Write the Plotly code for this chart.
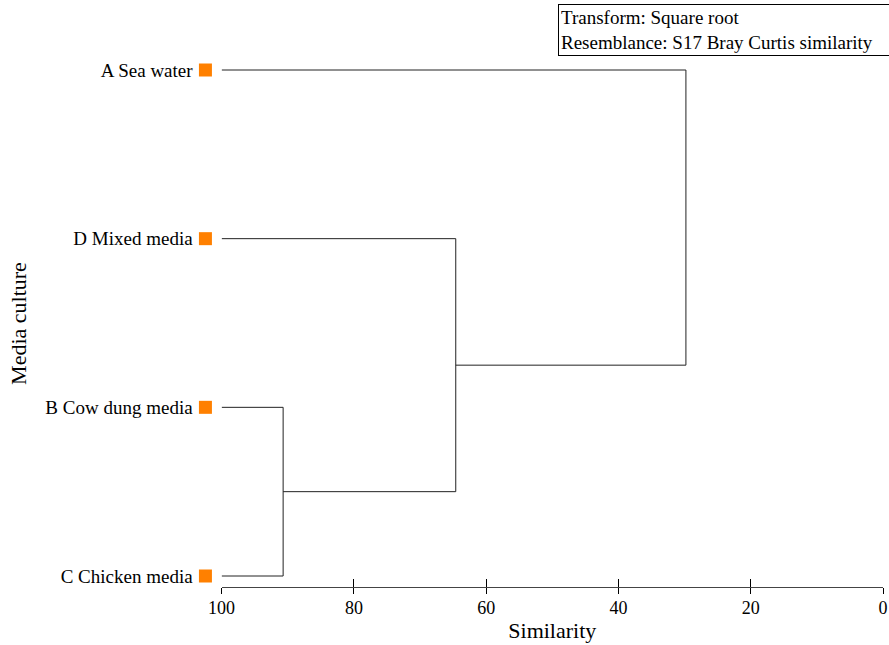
import plotly.graph_objects as go

# Data
leaf_labels = ["C Chicken media", "B Cow dung media", "D Mixed media", "A Sea water"]
leaf_pos = [0, 1, 2, 3]
merge_bc = 90.7   # B + C
merge_bcd = 64.6  # (B,C) + D
merge_all = 29.8  # (B,C,D) + A
x_ticks = [100, 80, 60, 40, 20, 0]

FONT = "Liberation Serif"
W, H = 889, 645
X0, X1 = 221.7, 883.3     # pixel span of the similarity axis
Y_TOP, Y_AX = 60, 587     # plot area top / axis line

# dendrogram segments
c, b, d, a = leaf_pos
bc_mid = (b + c) / 2
bcd_mid = (bc_mid + d) / 2
xs, ys = [], []
def seg(px, py):
    xs.extend(px + [None]); ys.extend(py + [None])
seg([100, merge_bc, merge_bc, 100], [c, c, b, b])
seg([merge_bc, merge_bcd], [bc_mid, bc_mid])
seg([100, merge_bcd, merge_bcd], [d, d, bc_mid])
seg([merge_bcd, merge_all], [bcd_mid, bcd_mid])
seg([100, merge_all, merge_all], [a, a, bcd_mid])

fig = go.Figure()
fig.add_trace(go.Scatter(x=xs, y=ys, mode="lines", line=dict(color="#222222", width=1),
                         hoverinfo="skip", showlegend=False))
# leaf markers on a small helper axis left of the dendrogram
fig.add_trace(go.Scatter(x=[0.5] * 4, y=leaf_pos, xaxis="x3", mode="markers",
                         marker=dict(symbol="square", size=13, color="#ff8000"),
                         cliponaxis=False, showlegend=False, hoverinfo="skip"))
# invisible trace for the inside-tick overlay axis
fig.add_trace(go.Scatter(x=[100, 0], y=[0, 0], xaxis="x2", mode="markers",
                         marker=dict(opacity=0), showlegend=False, hoverinfo="skip"))

unit = (576 - 70) / 3
fig.update_layout(
    width=W, height=H, template="none",
    margin=dict(l=0, r=W - X1, t=Y_TOP, b=H - Y_AX),
    plot_bgcolor="white", paper_bgcolor="white",
    font=dict(family=FONT, color="black"),
    xaxis=dict(domain=[X0 / X1, 1], range=[100, 0], tickvals=x_ticks, ticks="outside",
               ticklen=6, tickcolor="black", showline=True, linecolor="#444444",
               linewidth=1, showgrid=False, zeroline=False, automargin=False,
               ticklabeloverflow="allow", ticklabelstandoff=-2,
               tickfont=dict(size=18, family=FONT),
               title=dict(text="Similarity", font=dict(size=22, family=FONT), standoff=6)),
    xaxis2=dict(domain=[X0 / X1, 1], range=[100, 0], tickvals=x_ticks, ticks="inside",
                ticklen=8, tickcolor="black", overlaying="x", side="bottom",
                showticklabels=False, showgrid=False, zeroline=False, showline=False,
                automargin=False),
    xaxis3=dict(domain=[198 / X1, 213 / X1], range=[0, 1], anchor="y", visible=False,
                showgrid=False, zeroline=False, automargin=False),
    yaxis=dict(range=[-(Y_AX - 576) / unit, 3 + (70 - Y_TOP) / unit], anchor="x",
               tickvals=leaf_pos, ticktext=leaf_labels, ticks="", showline=False,
               showgrid=False, zeroline=False, automargin=False,
               tickfont=dict(size=19, family=FONT), ticklabelstandoff=28,
               title=dict(text="Media culture", font=dict(size=22, family=FONT), standoff=12)),
    annotations=[dict(
        text="Transform: Square root<br>Resemblance: S17 Bray Curtis similarity",
        xref="paper", yref="paper", x=558 / X1, y=(Y_AX - 4) / (Y_AX - Y_TOP),
        xanchor="left", yanchor="top", align="left", showarrow=False, width=345,
        font=dict(size=19, family=FONT), bordercolor="black", borderwidth=1,
        borderpad=2, bgcolor="white")],
)

fig.write_html("out.html", config={"displayModeBar": False},
               post_script="document.body.style.margin='0';")
